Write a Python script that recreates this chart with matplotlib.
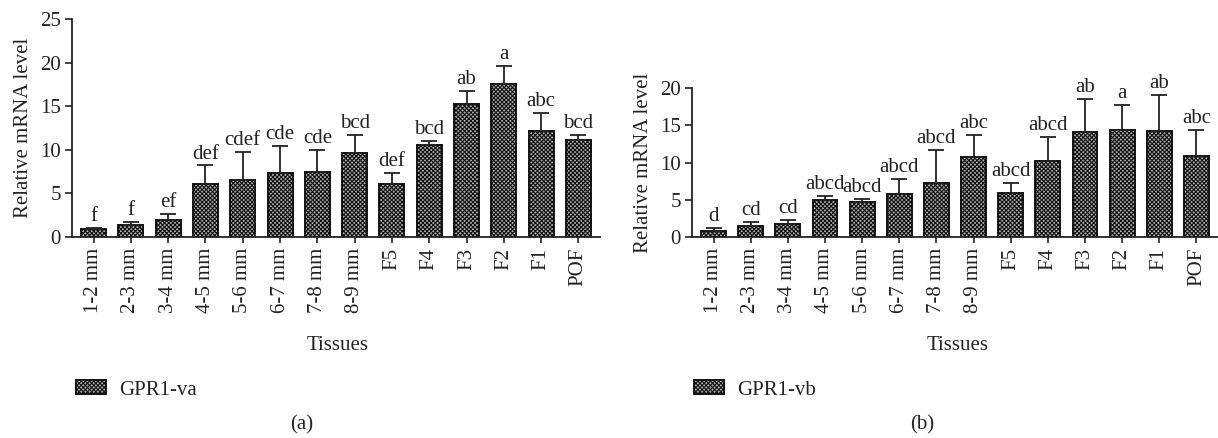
import matplotlib
matplotlib.use("Agg")
import matplotlib.pyplot as plt
import numpy as np

categories = ["1-2 mm", "2-3 mm", "3-4 mm", "4-5 mm", "5-6 mm", "6-7 mm", "7-8 mm",
              "8-9 mm", "F5", "F4", "F3", "F2", "F1", "POF"]

va_values = [0.9, 1.35, 1.95, 6.1, 6.55, 7.35, 7.45, 9.6, 6.1, 10.6, 15.3, 17.6, 12.2, 11.1]
va_errors = [0.1, 0.35, 0.65, 2.1, 3.2, 3.05, 2.55, 2.1, 1.2, 0.45, 1.5, 2.0, 2.0, 0.55]
va_letters = ["f", "f", "ef", "def", "cdef", "cde", "cde", "bcd", "def", "bcd", "ab", "a", "abc", "bcd"]

vb_values = [0.8, 1.4, 1.75, 4.95, 4.7, 5.7, 7.3, 10.8, 5.9, 10.15, 14.1, 14.4, 14.2, 10.9]
vb_errors = [0.35, 0.55, 0.5, 0.55, 0.4, 2.1, 4.4, 2.85, 1.4, 3.25, 4.45, 3.4, 4.85, 3.5]
vb_letters = ["d", "cd", "cd", "abcd", "abcd", "abcd", "abcd", "abc", "abcd", "abcd", "ab", "a", "ab", "abc"]

plt.rcParams['font.family'] = ['Liberation Serif', 'DejaVu Serif']
plt.rcParams['hatch.linewidth'] = 0.8
FS = 15

W, H = 1218, 438
fig = plt.figure(figsize=(W / 100, H / 100), dpi=100)


def px_axes(left, right, top, bottom):
    return fig.add_axes([left / W, 1 - bottom / H, (right - left) / W, (bottom - top) / H])


def panel(ax, values, errors, letters, ymax, yticks):
    x = np.arange(len(categories))
    bars = ax.bar(x, values, width=0.67, facecolor='#b0b0b0', edgecolor='#111111',
                  linewidth=1.4, hatch='xxxxxxxx', zorder=2)
    ax.errorbar(x, values, yerr=[np.zeros(len(values)), errors], fmt='none',
                ecolor='#222222', elinewidth=1.3, capsize=5.5, capthick=1.3, zorder=3)
    for xi, v, e, lab in zip(x, values, errors, letters):
        ax.annotate(lab, (xi, v + e), xytext=(0, 5), textcoords='offset points',
                    ha='center', va='baseline', fontsize=FS, color='#222222')
    ax.set_xlim(-0.58, len(categories) - 0.42)
    ax.set_ylim(0, ymax)
    ax.set_yticks(yticks)
    ax.set_xticks(x)
    ax.set_xticklabels(categories, rotation=90, fontsize=FS, color='#222222')
    ax.tick_params(axis='y', labelsize=FS, length=5, width=1.2, pad=3, colors='#222222')
    ax.tick_params(axis='x', length=4, width=1.2, pad=4, colors='#222222')
    for s in ['top', 'right']:
        ax.spines[s].set_visible(False)
    for s in ['left', 'bottom']:
        ax.spines[s].set_linewidth(1.3)
        ax.spines[s].set_color('#222222')
    ax.set_ylabel("Relative mRNA level", fontsize=FS, color='#222222', labelpad=5)
    ax.patch.set_alpha(0)
    return bars


ax1 = px_axes(72, 600, 19, 237)
bars1 = panel(ax1, va_values, va_errors, va_letters, 25, [0, 5, 10, 15, 20, 25])
ax2 = px_axes(692, 1218, 88.3, 236.7)
bars2 = panel(ax2, vb_values, vb_errors, vb_letters, 20, [0, 5, 10, 15, 20])

fig.text(338 / W, 1 - 346 / H, "Tissues", ha='center', va='center', fontsize=FS, color='#222222')
fig.text(958 / W, 1 - 346 / H, "Tissues", ha='center', va='center', fontsize=FS, color='#222222')
fig.text(302 / W, 1 - 425 / H, "(a)", ha='center', va='center', fontsize=FS, color='#222222')
fig.text(922 / W, 1 - 425 / H, "(b)", ha='center', va='center', fontsize=FS, color='#222222')

for bars, name, lx in [(bars1, "GPR1-va", 76), (bars2, "GPR1-vb", 694)]:
    fig.legend(handles=[bars], labels=[name], loc='center left',
               bbox_to_anchor=(lx / W, 1 - 390 / H), frameon=False, fontsize=FS,
               handlelength=1.45, handleheight=0.62, handletextpad=0.6,
               borderpad=0, borderaxespad=0, labelcolor='#222222')

fig.savefig("out.png", dpi=100)
